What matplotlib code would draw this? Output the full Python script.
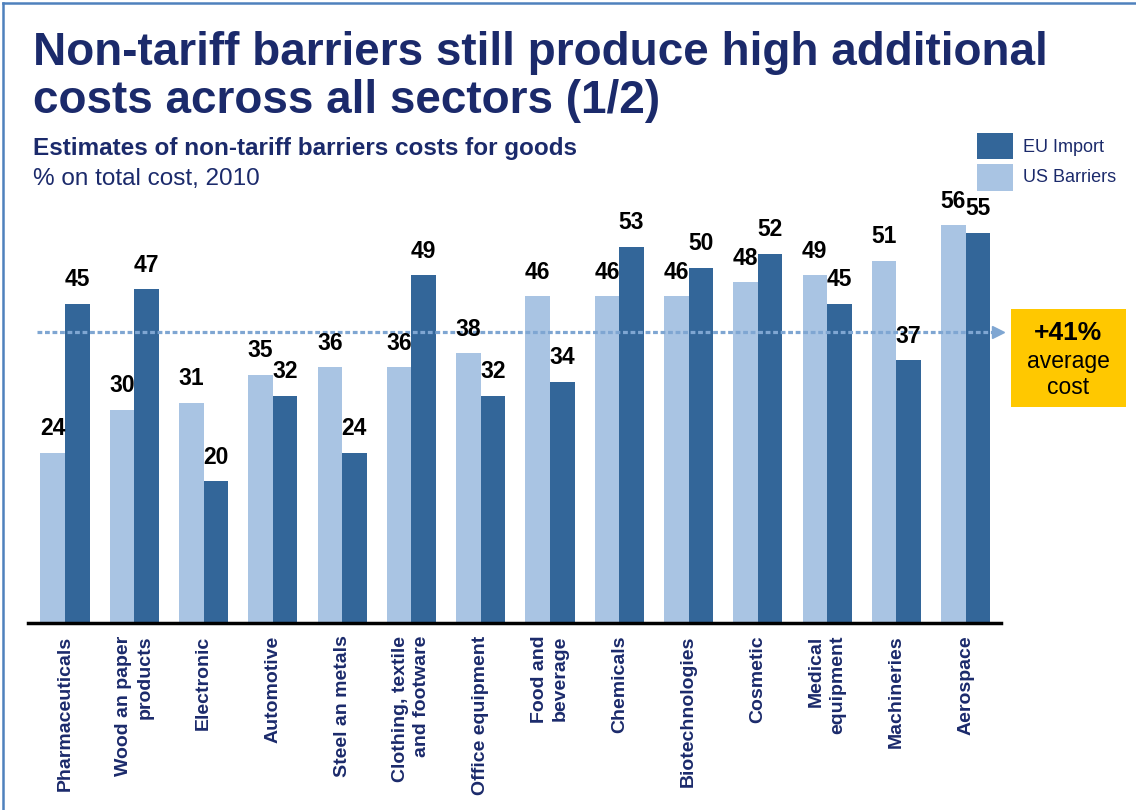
import matplotlib
matplotlib.use("Agg")
import matplotlib.pyplot as plt
from matplotlib.lines import Line2D
from matplotlib.patches import Rectangle
import numpy as np

categories = ["Pharmaceuticals", "Wood an paper\nproducts", "Electronic", "Automotive",
              "Steel an metals", "Clothing, textile\nand footware", "Office equipment",
              "Food and\nbeverage", "Chemicals", "Biotechnologies", "Cosmetic",
              "Medical\nequipment", "Machineries", "Aerospace"]
us_barriers = [24, 30, 31, 35, 36, 36, 38, 46, 46, 46, 48, 49, 51, 56]
eu_import = [45, 47, 20, 32, 24, 49, 32, 34, 53, 50, 52, 45, 37, 55]
average = 41

title = "Non-tariff barriers still produce high additional\ncosts across all sectors (1/2)"
subtitle = "Estimates of non-tariff barriers costs for goods"
subtitle2 = "% on total cost, 2010"

W, H = 1136, 810
NAVY = "#1B2A6B"
DARK = "#336699"
LIGHT = "#A9C4E3"
DOT = "#7FA6D2"
YELLOW = "#FFC800"

plt.rcParams['font.family'] = ['Liberation Sans', 'DejaVu Sans']

fig = plt.figure(figsize=(W / 100, H / 100), dpi=100)
fig.patch.set_facecolor("white")

def fx(px):
    return px / W

def fy(py):
    return 1 - py / H

# axes placement
ax = fig.add_axes([fx(28), fy(623), fx(1001) - fx(28), fy(197) - fy(623)])
ax.set_xlim(-0.534, 13.51)
ax.set_ylim(0, 60)
x = np.arange(len(categories))
bw = 0.355
b1 = ax.bar(x - bw / 2, us_barriers, bw, color=LIGHT, label="US Barriers", zorder=2)
b2 = ax.bar(x + bw / 2, eu_import, bw, color=DARK, label="EU Import", zorder=2)

for bars, vals in ((b1, us_barriers), (b2, eu_import)):
    for r, v in zip(bars, vals):
        ax.annotate(str(v), (r.get_x() + r.get_width() / 2, v), xytext=(0, 9),
                    textcoords="offset points", ha="center", va="bottom",
                    fontsize=16.5, fontweight="bold", color="black", zorder=4)

for s in ("top", "right", "left"):
    ax.spines[s].set_visible(False)
ax.spines["bottom"].set_linewidth(2.5)
ax.spines["bottom"].set_color("black")
ax.set_yticks([])
ax.set_xticks(x)
ax.set_xticklabels(categories, rotation=90, ha="center", va="top",
                   multialignment="right", fontsize=14, fontweight="bold",
                   color=NAVY, linespacing=1.3)
ax.tick_params(axis="x", length=0, pad=9)

# average dotted line with arrow head
ax.plot([-0.40, 13.42], [average, average], color=DOT, lw=2.3,
        linestyle=(0, (1.5, 0.85)), clip_on=False, zorder=3)
ax.plot([13.46], [average], marker=">", color=DOT, markersize=9, clip_on=False, zorder=3)

# yellow callout
fig.patches.append(Rectangle((fx(1011), fy(407)), fx(1126) - fx(1011), fy(309) - fy(407),
                             transform=fig.transFigure, facecolor=YELLOW, edgecolor="none"))
fig.text(fx(1068), fy(333), "+%d%%" % average, ha="center", va="center",
         fontsize=19, fontweight="bold", color="black")
fig.text(fx(1068), fy(362), "average", ha="center", va="center", fontsize=16.5, color="black")
fig.text(fx(1068), fy(387), "cost", ha="center", va="center", fontsize=16.5, color="black")

# titles
fig.text(fx(33), fy(65), title.split("\n")[0], ha="left", va="baseline",
         fontsize=33, fontweight="bold", color=NAVY)
fig.text(fx(33), fy(113), title.split("\n")[1], ha="left", va="baseline",
         fontsize=33, fontweight="bold", color=NAVY)
fig.text(fx(33), fy(155), subtitle, ha="left", va="baseline",
         fontsize=17.5, fontweight="bold", color=NAVY)
fig.text(fx(33), fy(185), subtitle2, ha="left", va="baseline",
         fontsize=17.5, color=NAVY)

# legend (manual)
fig.patches.append(Rectangle((fx(977), fy(159)), fx(36), 26 / H,
                             transform=fig.transFigure, facecolor=DARK, edgecolor="none"))
fig.patches.append(Rectangle((fx(977), fy(191)), fx(36), 27 / H,
                             transform=fig.transFigure, facecolor=LIGHT, edgecolor="none"))
fig.text(fx(1023), fy(147), "EU Import", ha="left", va="center", fontsize=13, color=NAVY)
fig.text(fx(1023), fy(178), "US Barriers", ha="left", va="center", fontsize=13, color=NAVY)

# border (left and top)
fig.add_artist(Line2D([fx(3), fx(3)], [0, fy(3)], transform=fig.transFigure,
                      color="#4F81BD", lw=1.8))
fig.add_artist(Line2D([fx(3), 1], [fy(3), fy(3)], transform=fig.transFigure,
                      color="#4F81BD", lw=1.8))

fig.savefig("out.png", dpi=100)
